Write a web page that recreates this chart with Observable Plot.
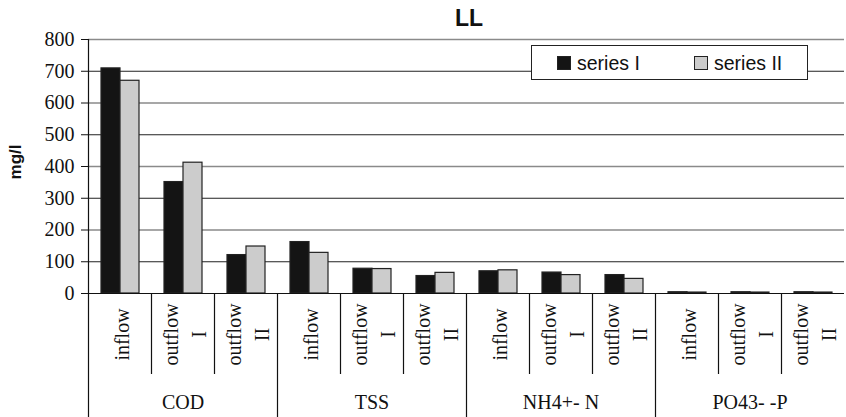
<!DOCTYPE html>
<html>
<head>
<meta charset="utf-8">
<script src="https://cdn.jsdelivr.net/npm/d3@7"></script>
<script src="https://cdn.jsdelivr.net/npm/@observablehq/plot@0.6"></script>
<style>
  body { margin: 0; background: #fff; }
  #wrap { position: relative; width: 846px; height: 417px; overflow: hidden; }
  #wrap svg text { font-family: "Liberation Serif", "Times New Roman", serif; }
  #wrap svg text.sans { font-family: "Liberation Sans", Arial, sans-serif; font-weight: bold; }
  #legend { position: absolute; left: 531px; top: 45px; width: 275px; height: 33px;
    border: 1.5px solid #222; background: #fff; font-family: "Liberation Sans", Arial, sans-serif; font-size: 19.5px; color: #111; }
  .item { position: absolute; top: 6px; display: flex; align-items: center; height: 22px; }
  .sw { width: 12px; height: 12px; border: 1px solid #222; margin-right: 6px; }
</style>
</head>
<body>
<div id="wrap"></div>
<script>
const groups = ["COD", "TSS", "NH4+- N", "PO43- -P"];
const stages = ["inflow", "outflow\nI", "outflow\nII"];
const seriesNames = ["series I", "series II"];
const seriesColors = ["#141414", "#cccccc"];
const seriesI  = [709, 351, 121, 162, 78, 55, 70, 66, 58, 4, 4, 4];
const seriesII = [670, 412, 148, 128, 77, 65, 73, 58, 46, 3, 3, 3];
const yTicks = [0, 100, 200, 300, 400, 500, 600, 700, 800];
const gridDark = [100, 300, 500, 700];
const gridLight = [200, 400, 600, 800];

const slots = [];
groups.forEach((g, gi) => stages.forEach((s, si) => slots.push({key: g + "|" + si, group: g, gi, si, stage: s})));
const rows = [];
slots.forEach((sl, i) => {
  rows.push({slot: sl.key, series: seriesNames[0], value: seriesI[i]});
  rows.push({slot: sl.key, series: seriesNames[1], value: seriesII[i]});
});
const groupRows = groups.map((g, gi) => ({group: g, slot: g + "|1"}));

const chart = Plot.plot({
  width: 846, height: 417,
  marginLeft: 86, marginRight: 0, marginTop: 39, marginBottom: 124,
  style: {fontFamily: "'Liberation Serif', 'Times New Roman', serif", fontSize: "20px", color: "#111", background: "#fff"},
  fx: {domain: slots.map(d => d.key), padding: 0, axis: null},
  x: {domain: seriesNames, paddingInner: 0, paddingOuter: 0.63, axis: null},
  y: {domain: [0, 800], ticks: yTicks, tickSize: 7, tickPadding: 7, label: null, tickFormat: d => String(d)},
  color: {domain: seriesNames, range: seriesColors},
  marks: [
    Plot.ruleY(gridLight, {stroke: "#8a8a8a", strokeWidth: 1.6}),
    Plot.ruleY(gridDark, {stroke: "#222", strokeWidth: 1.2}),
    Plot.barY(rows, {fx: "slot", x: "series", y: "value", fill: "series", stroke: "#222", strokeWidth: 1.2}),
    Plot.ruleY([0], {stroke: "#111", strokeWidth: 1.2}),
    Plot.text(slots, {fx: "key", text: "stage", frameAnchor: "bottom", lineAnchor: "middle", textAnchor: "middle",
      dy: 41, rotate: -90, lineHeight: 1.4, fontSize: 20, fill: "#111"}),
    Plot.text(groupRows, {fx: "slot", text: "group", frameAnchor: "bottom", lineAnchor: "middle", textAnchor: "middle",
      dy: 109, fontSize: 20, fill: "#111"})
  ]
});

const svg = d3.select(chart);
const fx = chart.scale("fx");
const y = chart.scale("y");
const y0 = y.apply(0), yTop = y.apply(800);
const g = svg.append("g").attr("stroke", "#111").attr("stroke-width", 1.2);
slots.forEach(sl => {
  const x0 = Math.round(fx.apply(sl.key)) + 0.5;
  g.append("line").attr("x1", x0).attr("x2", x0)
    .attr("y1", sl.si === 0 ? (sl.gi === 0 ? yTop : y0) : y0)
    .attr("y2", sl.si === 0 ? 417 : 374);
});
const [r0, r1] = fx.range;
svg.append("text").text("LL").attr("class", "sans")
  .attr("x", (r0 + r1) / 2 + 3).attr("y", 26)
  .attr("text-anchor", "middle")
  .style("font-size", "23px").attr("fill", "#111");
svg.append("text").text("mg/l").attr("class", "sans")
  .attr("transform", `translate(21,${y.apply(400) - 4}) rotate(-90)`)
  .attr("text-anchor", "middle")
  .style("font-size", "17px").attr("fill", "#111");

const wrap = document.getElementById("wrap");
wrap.appendChild(chart);
const legend = document.createElement("div");
legend.id = "legend";
const lefts = [25, 162];
seriesNames.forEach((n, i) => {
  const it = document.createElement("div");
  it.className = "item";
  it.style.left = lefts[i] + "px";
  const sw = document.createElement("div");
  sw.className = "sw";
  sw.style.background = seriesColors[i];
  const t = document.createElement("span");
  t.textContent = n;
  it.appendChild(sw); it.appendChild(t);
  legend.appendChild(it);
});
wrap.appendChild(legend);
</script>
</body>
</html>
